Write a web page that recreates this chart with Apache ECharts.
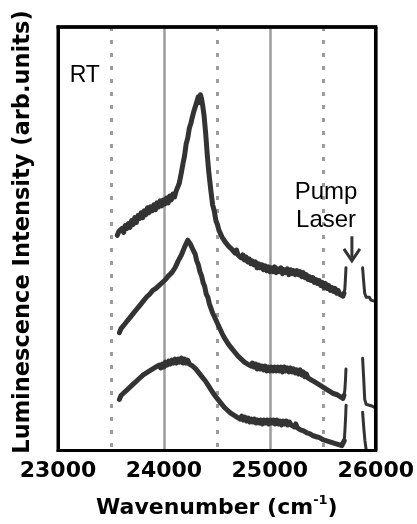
<!DOCTYPE html>
<html><head><meta charset="utf-8">
<script src="https://cdn.jsdelivr.net/npm/echarts@6/dist/echarts.min.js"></script>
<style>html,body{margin:0;padding:0;background:#fff}#c{width:417px;height:524px}</style>
</head><body><div id="c"></div>
<script>
// x tick labels
var xTicks = [23000, 24000, 25000, 26000];
var xTitle = 'Wavenumber (cm';
var yTitle = 'Luminescence Intensity (arb.units)';

// Top spectrum [wavenumber, intensity (arb.)]
var topCurve = [[23560,219],[23575,223],[23590,221],[23605,226],[23620,222],[23635,229],[23650,226],[23665,231],[23680,227],[23695,234],[23710,230],[23725,237],[23740,232],[23755,239],[23770,236],[23785,242],[23800,237],[23815,244],[23830,240],[23845,247],[23860,242],[23875,248],[23890,244],[23905,250],[23920,245],[23935,252],[23950,248],[23965,254],[23980,249],[23995,255],[24010,251],[24025,257],[24040,252],[24055,259],[24070,255],[24085,261],[24100,258],[24115,264],[24130,263],[24145,272],[24165,283],[24180,292],[24195,300],[24210,312],[24225,318],[24240,328],[24255,333],[24270,340],[24285,346],[24300,351],[24315,349],[24325,360],[24335,354],[24345,362],[24355,358],[24365,352],[24380,340],[24395,322],[24410,300],[24425,282],[24444,264],[24460,250],[24475,244],[24491,234],[24505,230],[24520,224],[24535,223],[24550,217],[24565,218],[24580,212],[24595,214],[24610,208],[24625,210],[24640,205],[24655,207],[24670,201],[24685,204],[24700,199],[24715,201],[24730,196],[24745,199],[24760,194],[24775,197],[24790,192],[24805,195],[24820,190],[24835,193],[24850,189],[24865,192],[24880,186],[24895,190],[24910,186],[24925,189],[24940,184],[24955,188],[24970,183],[24985,187],[25000,182],[25015,186],[25030,182],[25045,187],[25060,181],[25075,185],[25090,182],[25105,186],[25120,180],[25135,184],[25150,181],[25165,185],[25180,179],[25195,184],[25210,180],[25225,183],[25240,179],[25255,183],[25270,179],[25285,182],[25300,177],[25315,181],[25330,176],[25345,179],[25360,174],[25375,177],[25390,173],[25405,176],[25420,171],[25435,174],[25450,170],[25465,173],[25480,168],[25495,171],[25510,166],[25525,170],[25540,165],[25555,168],[25570,163],[25585,166],[25600,162],[25615,165],[25630,160],[25645,163],[25660,159],[25675,161],[25690,157],[25700,160]];
var topSpike = [[25700,160],[25708,164],[25714,175],[25719,186]];
var topTail = [[25876,186],[25886,172],[25896,160],[25910,156],[25925,154],[25940,156],[25955,153],[25970,154],[25985,152],[26000,152]];

// Middle spectrum
var midCurve = [[23580,120],[23595,124],[23610,123],[23625,128],[23640,127],[23655,132],[23670,131],[23685,136],[23700,135],[23715,140],[23730,139],[23745,144],[23760,143],[23775,148],[23790,147],[23805,152],[23820,151],[23835,156],[23850,155],[23865,159],[23880,158],[23895,163],[23910,161],[23925,165],[23940,164],[23955,168],[23970,167],[23985,171],[24000,169],[24015,174],[24030,173],[24045,178],[24060,177],[24075,181],[24090,181],[24105,186],[24120,187],[24135,193],[24150,194],[24165,199],[24180,201],[24195,207],[24210,208],[24225,214],[24238,215],[24250,210],[24265,209],[24280,203],[24295,200],[24310,193],[24325,189],[24340,182],[24355,178],[24370,171],[24385,167],[24400,159],[24415,156],[24430,149],[24445,147],[24460,140],[24475,139],[24490,133],[24505,132],[24520,126],[24535,125],[24550,119],[24565,119],[24580,113],[24595,113],[24610,108],[24625,109],[24640,104],[24655,105],[24670,100],[24685,101],[24700,96],[24715,98],[24730,93],[24745,95],[24760,90],[24775,92],[24790,88],[24805,90],[24820,86],[24835,89],[24850,85],[24865,88],[24880,83],[24895,87],[24910,83],[24925,86],[24940,82],[24955,86],[24970,81],[24985,85],[25000,81],[25015,85],[25030,81],[25045,85],[25060,81],[25075,85],[25090,81],[25105,85],[25120,80],[25135,85],[25150,81],[25165,84],[25180,80],[25195,84],[25210,80],[25225,83],[25240,79],[25255,82],[25270,78],[25285,82],[25300,77],[25315,80],[25330,75],[25345,78],[25360,74],[25375,76],[25390,72],[25405,74],[25420,70],[25435,72],[25450,68],[25465,70],[25480,66],[25495,68],[25510,64],[25525,66],[25540,62],[25555,64],[25570,60],[25585,62],[25600,58],[25615,60],[25630,57],[25645,58],[25660,55],[25675,56],[25690,53],[25700,56]];
var midSpike = [[25700,56],[25708,61],[25714,71],[25719,83]];
var midTail = [[25876,94],[25886,74],[25896,52],[25910,47],[25925,45],[25940,46],[25955,44],[25970,45],[25985,43],[26000,43]];

// Bottom spectrum
var botCurve = [[23580,52],[23595,56],[23610,55],[23625,59],[23640,58],[23655,62],[23670,61],[23685,65],[23700,64],[23715,68],[23730,67],[23745,71],[23760,70],[23775,74],[23790,72],[23805,77],[23820,75],[23835,79],[23850,77],[23865,81],[23880,79],[23895,83],[23910,81],[23925,85],[23940,83],[23955,87],[23970,84],[23985,88],[24000,85],[24015,90],[24030,87],[24045,91],[24060,88],[24075,92],[24090,89],[24105,93],[24120,89],[24135,93],[24150,90],[24165,94],[24180,89],[24195,93],[24210,89],[24225,92],[24240,88],[24255,90],[24270,86],[24285,88],[24300,83],[24315,84],[24330,79],[24345,80],[24360,75],[24375,75],[24390,71],[24405,70],[24420,66],[24435,65],[24450,61],[24465,60],[24480,56],[24495,56],[24510,52],[24525,52],[24540,48],[24555,48],[24570,44],[24585,45],[24600,41],[24615,42],[24630,38],[24645,40],[24660,36],[24675,38],[24690,34],[24705,36],[24720,32],[24735,35],[24750,31],[24765,34],[24780,30],[24795,33],[24810,29],[24825,32],[24840,29],[24855,32],[24870,28],[24885,31],[24900,28],[24915,31],[24930,27],[24945,31],[24960,28],[24975,31],[24990,27],[25005,31],[25020,28],[25035,31],[25050,27],[25065,31],[25080,27],[25095,30],[25110,26],[25125,30],[25140,27],[25155,30],[25170,26],[25185,29],[25200,26],[25215,28],[25230,24],[25245,27],[25260,23],[25275,25],[25290,21],[25305,23],[25320,20],[25335,21],[25350,18],[25365,20],[25380,17],[25395,18],[25410,15],[25425,17],[25440,14],[25455,15],[25470,13],[25485,14],[25500,11],[25515,13],[25530,10],[25545,12],[25560,9],[25575,11],[25590,8],[25605,10],[25620,7],[25635,9],[25650,6],[25665,8],[25680,5],[25695,7],[25703,10]];
var botSpike = [[25703,10],[25710,22],[25716,35],[25720,46]];
var botTail = [[25876,39],[25888,22],[25898,10],[25908,2],[25918,-6]];

// Annotation anchors (data coordinates)
var rtLabel = {text: 'RT', at: [23253, 381]};
var pumpLabel = {text: 'Pump\nLaser', at: [25531, 248]};
var arrowFrom = [25775, 218], arrowTo = [25775, 193];
var xMin = 23000, xMax = 26000, yMin = 0, yMax = 431;

var chart = echarts.init(document.getElementById('c'), null, {renderer: 'canvas'});
function mk(d, w) {
  return {type: 'line', data: d, showSymbol: false, symbol: 'none',
    lineStyle: {color: '#333333', width: w, join: 'round', cap: 'round'}, clip: true, animation: false, z: 3};
}
var frameAxis = {show: true, onZero: false, lineStyle: {color: '#000', width: 3}};
chart.setOption({
  animation: false,
  grid: {left: 58, right: 39, top: 27, bottom: 66},
  xAxis: {
    type: 'value', min: xMin, max: xMax, interval: 1000,
    axisLine: frameAxis,
    axisTick: {show: false},
    axisLabel: {color: '#000', fontFamily: 'DejaVu Sans', fontWeight: 'bold', fontSize: 22, margin: 10,
      formatter: function (v) { return xTicks.indexOf(v) >= 0 ? String(v) : ''; }},
    splitLine: {show: true, lineStyle: {color: '#9c9c9c', width: 2.5}},
    minorTick: {show: false, splitNumber: 2},
    minorSplitLine: {show: true, lineStyle: {color: '#9c9c9c', width: 3, type: [4, 9]}},
    name: xTitle + '{sup|-1}{n|)}',
    nameLocation: 'middle', nameGap: 44,
    nameTextStyle: {color: '#000', fontFamily: 'DejaVu Sans', fontWeight: 'bold', fontSize: 22,
      rich: {sup: {fontFamily: 'DejaVu Sans', fontWeight: 'bold', fontSize: 13, verticalAlign: 'top', padding: [0, 0, 14, 0], color: '#000'},
             n: {fontFamily: 'DejaVu Sans', fontWeight: 'bold', fontSize: 22, color: '#000'}}}
  },
  yAxis: {
    type: 'value', min: yMin, max: yMax,
    axisLine: frameAxis,
    axisTick: {show: false}, axisLabel: {show: false}, splitLine: {show: false}
  },
  series: [mk(topCurve, 5), mk(topSpike, 3), mk(topTail, 3),
           mk(midCurve, 5), mk(midSpike, 3), mk(midTail, 3),
           mk(botCurve, 5), mk(botSpike, 3), mk(botTail, 3)]
});

var tl = chart.convertToPixel({gridIndex: 0}, [xMin, yMax]);
var br = chart.convertToPixel({gridIndex: 0}, [xMax, yMin]);
var p1 = chart.convertToPixel({gridIndex: 0}, rtLabel.at);
var p2 = chart.convertToPixel({gridIndex: 0}, pumpLabel.at);
var a1 = chart.convertToPixel({gridIndex: 0}, arrowFrom);
var a2 = chart.convertToPixel({gridIndex: 0}, arrowTo);
chart.setOption({graphic: [
  {type: 'rect', z: 20, shape: {x: tl[0], y: tl[1], width: br[0] - tl[0], height: br[1] - tl[1]},
   style: {fill: 'none', stroke: '#000', lineWidth: 3}},
  {type: 'line', z: 21, shape: {x1: tl[0] - 1.5, y1: tl[1], x2: br[0] + 1.5, y2: tl[1]},
   style: {stroke: '#000', lineWidth: 3.5}},
  {type: 'line', z: 21, shape: {x1: br[0], y1: tl[1], x2: br[0], y2: br[1]},
   style: {stroke: '#000', lineWidth: 3.5}},
  {type: 'text', x: 23, y: 232, rotation: Math.PI / 2, z: 10,
   style: {text: yTitle, fill: '#000', font: 'bold 22.5px "DejaVu Sans"', align: 'center', verticalAlign: 'middle'}},
  {type: 'text', x: p1[0], y: p1[1], z: 10,
   style: {text: rtLabel.text, fill: '#000', font: '23px "Liberation Sans"', align: 'center', verticalAlign: 'middle'}},
  {type: 'text', x: p2[0], y: p2[1], z: 10,
   style: {text: pumpLabel.text, fill: '#000', font: '24px "Liberation Sans"', lineHeight: 28, align: 'center', verticalAlign: 'middle'}},
  {type: 'line', z: 10, shape: {x1: a1[0], y1: a1[1], x2: a2[0], y2: a2[1] - 3}, style: {stroke: '#333', lineWidth: 3}},
  {type: 'polyline', z: 10, shape: {points: [[a2[0] - 8, a2[1] - 12], [a2[0], a2[1]], [a2[0] + 8, a2[1] - 12]]},
   style: {stroke: '#333', lineWidth: 3, fill: 'none'}}
]});
</script></body></html>
